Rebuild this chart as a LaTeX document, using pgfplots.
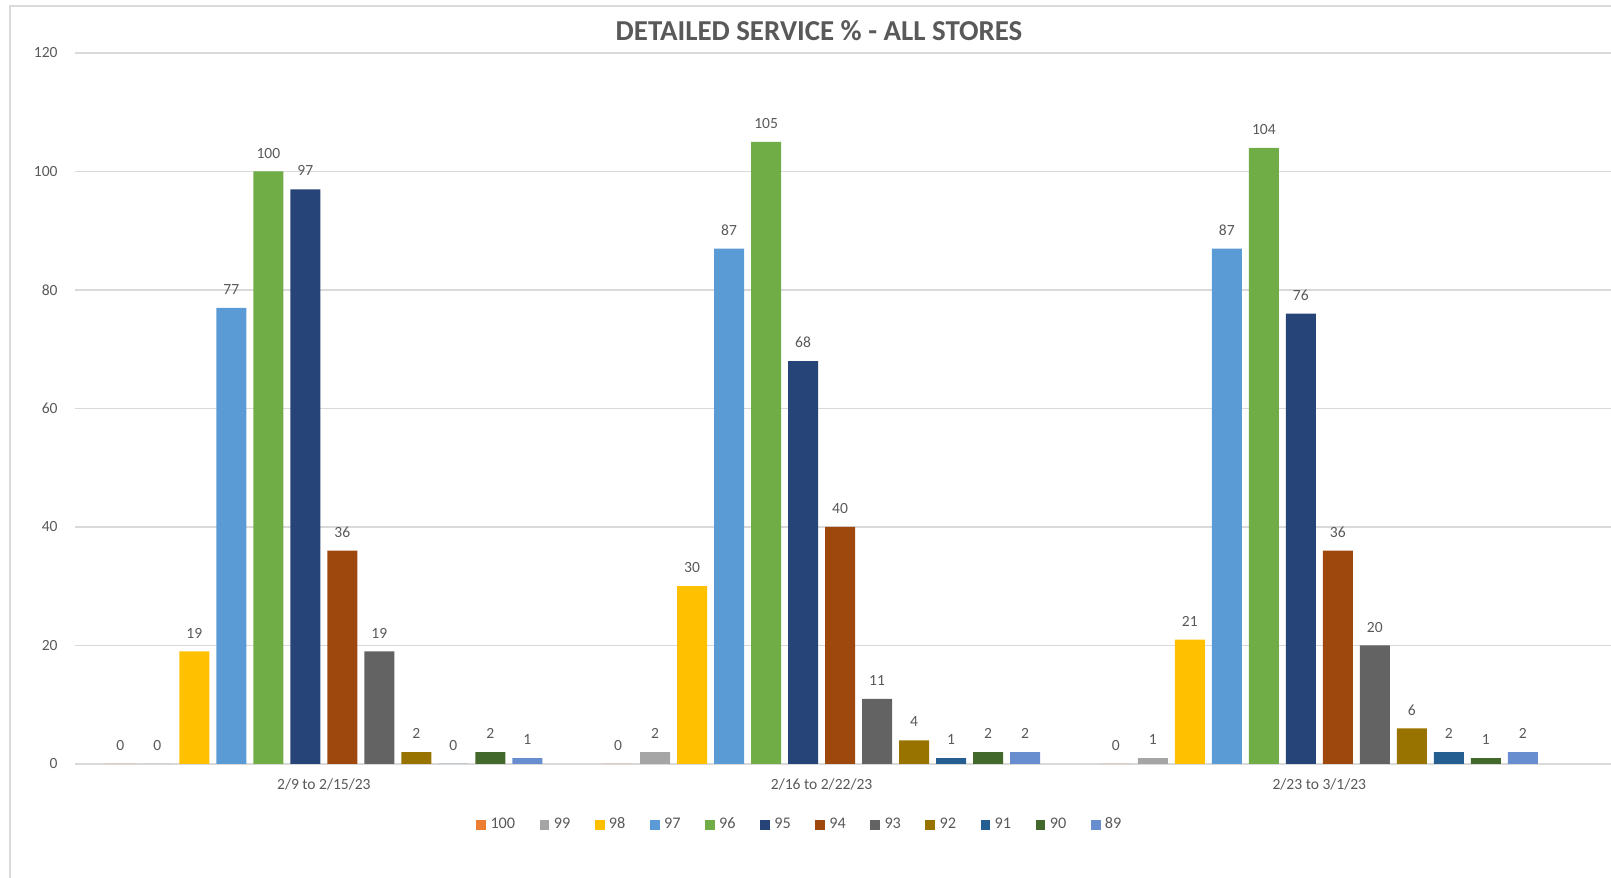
\documentclass[border=0pt]{standalone}
\usepackage{pgfplots}
\pgfplotsset{compat=1.18}
\usepackage{fontspec}
\setmainfont{Carlito}
\definecolor{cA}{HTML}{ED7D31}
\definecolor{cB}{HTML}{A5A5A5}
\definecolor{cC}{HTML}{FFC000}
\definecolor{cD}{HTML}{5B9BD5}
\definecolor{cE}{HTML}{70AD47}
\definecolor{cF}{HTML}{264478}
\definecolor{cG}{HTML}{9E480E}
\definecolor{cH}{HTML}{636363}
\definecolor{cI}{HTML}{997300}
\definecolor{cJ}{HTML}{255E91}
\definecolor{cK}{HTML}{43682B}
\definecolor{cL}{HTML}{698ED0}
\definecolor{gridc}{HTML}{D9D9D9}
\definecolor{txt}{HTML}{595959}
\begin{document}
\begin{tikzpicture}[x=1pt,y=1pt]
\useasboundingbox (0,0) rectangle (724.95,395.1);
\draw[color=gridc, line width=0.6pt] (4.5,0) -- (4.5,392.4) -- (724.95,392.4);
\node[font=\fontsize{13}{15}\selectfont\bfseries, text=txt] at (368.55,381.15) {DETAILED SERVICE \% - ALL STORES};
\begin{axis}[
  at={(33.75pt,51.3pt)}, anchor=south west,
  scale only axis, width=691.2pt, height=319.95pt,
  /pgf/number format/assume math mode=true,
  ybar=3.15pt, bar width=13.5pt,
  xmin=-0.5, xmax=2.586, ymin=0, ymax=120,
  xtick={0,1,2},
  xticklabels={2/9 to 2/15/23, 2/16 to 2/22/23, 2/23 to 3/1/23},
  ytick={0,20,...,120},
  axis line style={draw=none},
  major tick length=0pt,
  tick style={draw=none},
  ymajorgrids, major grid style={color=gridc, line width=0.5pt},
  xticklabel style={anchor=center, yshift=-9pt, font=\fontsize{7}{8}\selectfont, text=txt},
  yticklabel style={anchor=east, inner xsep=0pt, xshift=-7.65pt, font=\fontsize{7}{8}\selectfont, text=txt},
  nodes near coords,
  every node near coord/.append style={anchor=center, yshift=8.3pt, font=\fontsize{7}{8}\selectfont, text=txt},
  clip=false,
  legend columns=12,
  legend style={draw=none, fill=none, at={(0.4727,-0.0858)}, anchor=center,
    font=\fontsize{7.3}{8}\selectfont, text=txt,
    /tikz/every even column/.append style={column sep=9pt}},
  legend image code/.code={\fill[#1] (0pt,-2.2pt) rectangle (4.4pt,2.2pt);},
]
\addplot[fill=cA, draw=none] coordinates {(0,0) (1,0) (2,0)};
\addplot[fill=cB, draw=none] coordinates {(0,0) (1,2) (2,1)};
\addplot[fill=cC, draw=none] coordinates {(0,19) (1,30) (2,21)};
\addplot[fill=cD, draw=none] coordinates {(0,77) (1,87) (2,87)};
\addplot[fill=cE, draw=none] coordinates {(0,100) (1,105) (2,104)};
\addplot[fill=cF, draw=none] coordinates {(0,97) (1,68) (2,76)};
\addplot[fill=cG, draw=none] coordinates {(0,36) (1,40) (2,36)};
\addplot[fill=cH, draw=none] coordinates {(0,19) (1,11) (2,20)};
\addplot[fill=cI, draw=none] coordinates {(0,2) (1,4) (2,6)};
\addplot[fill=cJ, draw=none] coordinates {(0,0) (1,1) (2,2)};
\addplot[fill=cK, draw=none] coordinates {(0,2) (1,2) (2,1)};
\addplot[fill=cL, draw=none] coordinates {(0,1) (1,2) (2,2)};
\legend{100,99,98,97,96,95,94,93,92,91,90,89}
\end{axis}
\end{tikzpicture}
\end{document}
